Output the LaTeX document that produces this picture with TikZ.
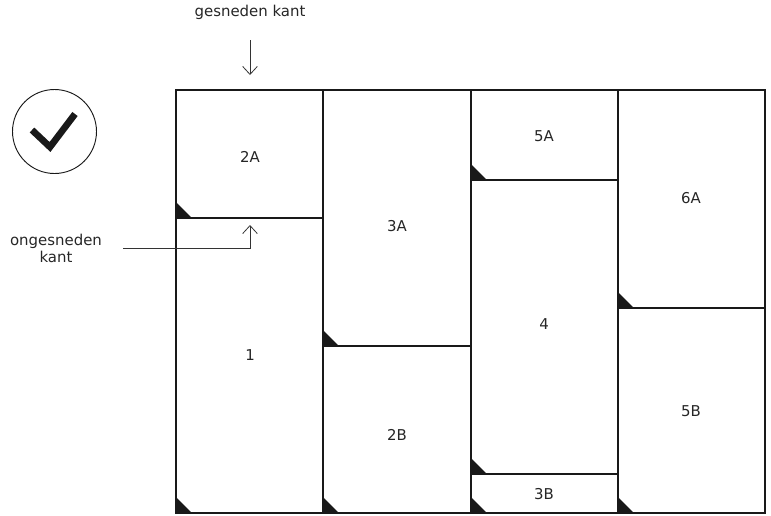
\documentclass[tikz,border=0pt]{standalone}
\usepackage{fontspec}
\setmainfont{DejaVu Sans}
\usetikzlibrary{arrows.meta}
\tikzset{
  cell/.style={draw=black!90, line width=0.9pt},
  lbl/.style={font=\fontsize{11.2pt}{12.75pt}\selectfont, text=black!85, inner sep=0pt},
  corner/.style={fill=black!90, draw=none},
  pointer/.style={draw=black!80, line width=0.6pt, -{Straight Barb[length=6pt,width=11pt,line width=0.6pt]}},
}
\begin{document}
\begin{tikzpicture}[x=0.75pt,y=-0.75pt]
\useasboundingbox (0,0) rectangle (771,515);
% cells
\draw[cell] (176,90) rectangle (323,218);
\draw[cell] (176,218) rectangle (323,513);
\draw[cell] (323,90) rectangle (471,346);
\draw[cell] (323,346) rectangle (471,513);
\draw[cell] (471,90) rectangle (618,180);
\draw[cell] (471,180) rectangle (618,474);
\draw[cell] (471,474) rectangle (618,513);
\draw[cell] (618,90) rectangle (765,308);
\draw[cell] (618,308) rectangle (765,513);
% corner marks
\foreach \cx/\cy in {176/218,176/513,323/346,323/513,471/180,471/474,471/513,618/308,618/513}
  \fill[corner] (\cx,\cy) -- ++(0,-16) -- ++(16,16) -- cycle;
% labels
\node[lbl] (l2A) at (250,157) {2A};
\node[lbl] (l1) at (250,355) {1};
\node[lbl] (l3A) at (397,226) {3A};
\node[lbl] (l2B) at (397,435) {2B};
\node[lbl] (l5A) at (544,136) {5A};
\node[lbl] (l4) at (544,324) {4};
\node[lbl] (l3B) at (544,494) {3B};
\node[lbl] (l6A) at (691,198) {6A};
\node[lbl] (l5B) at (691,411) {5B};
% annotations
\node[lbl] (cut) at (250,12) {gesneden kant};
\coordinate (cutS) at (250,40);
\coordinate (cutE) at (250,75);
\draw[pointer] (cutS) -- (cutE);
\node[lbl, align=center] (uncut) at (56,248) {ongesneden\\kant};
\coordinate (uncS) at (123,248);
\coordinate (uncK) at (250,248);
\coordinate (uncE) at (250,225);
\draw[pointer] (uncS) -- (uncK) -- (uncE);
% check mark
\node[draw=black!90, line width=0.7pt, circle, minimum size=63pt, inner sep=0pt] (chk) at (54.5,131.5) {};
\draw[line width=5pt, black!90, line join=miter] (32,130) -- (50,147) -- (75,114);
\end{tikzpicture}
\end{document}
